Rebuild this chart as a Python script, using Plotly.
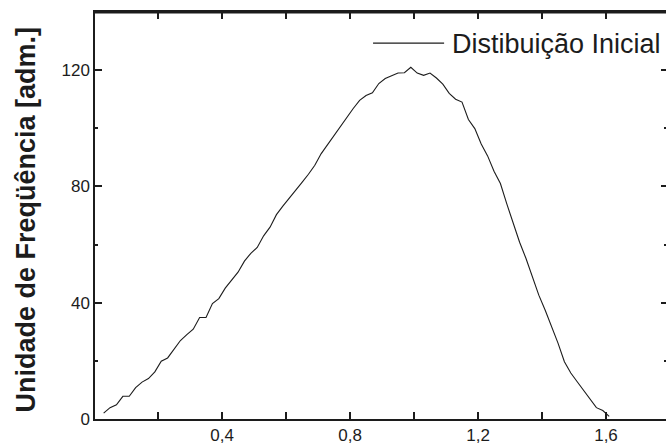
import plotly.graph_objects as go

# Initial frequency distribution (x in adm. units, y = frequency count)
x_vals = [0.03, 0.05, 0.07, 0.09, 0.11, 0.13, 0.15, 0.17, 0.19, 0.21,
          0.23, 0.25, 0.27, 0.29, 0.31, 0.33, 0.35, 0.37, 0.39, 0.41,
          0.43, 0.45, 0.47, 0.49, 0.51, 0.53, 0.55, 0.57, 0.59, 0.61,
          0.63, 0.65, 0.67, 0.69, 0.71, 0.73, 0.75, 0.77, 0.79, 0.81,
          0.83, 0.85, 0.87, 0.89, 0.91, 0.93, 0.95, 0.97, 0.99, 1.01,
          1.03, 1.05, 1.07, 1.09, 1.11, 1.13, 1.15, 1.17, 1.19, 1.21,
          1.23, 1.25, 1.27, 1.29, 1.31, 1.33, 1.35, 1.37, 1.39, 1.41,
          1.43, 1.45, 1.47, 1.49, 1.51, 1.53, 1.55, 1.57, 1.59, 1.61]
freq = [2.0, 3.9, 4.9, 7.8, 7.8, 10.8, 12.7, 13.9, 16.2, 19.9,
        21.0, 23.9, 27.0, 29.0, 30.9, 34.9, 34.9, 39.7, 41.4, 45.0,
        47.7, 50.5, 54.3, 57.0, 59.0, 63.0, 66.0, 70.3, 73.2, 75.8,
        78.6, 81.4, 84.2, 87.3, 91.3, 94.4, 97.4, 100.6, 103.9, 106.8,
        109.6, 111.3, 112.2, 115.4, 117.1, 118.0, 119.0, 119.1, 121.0, 119.0,
        118.2, 119.0, 117.3, 115.2, 112.0, 110.0, 109.0, 103.0, 99.9, 94.6,
        90.5, 85.2, 81.0, 74.0, 67.5, 60.8, 55.2, 48.6, 42.6, 37.4,
        31.9, 26.1, 19.7, 15.8, 12.8, 9.7, 6.6, 3.9, 2.9, 0.9]

series_name = "Distibuição Inicial"
y_title = "Unidade de Freqüência [adm.]"
x_ticks = [0.4, 0.8, 1.2, 1.6]
y_ticks = [0, 40, 80, 120]

INK = "#1c1c1c"
FONT = "Liberation Sans, Arial, sans-serif"
X_RANGE = [0.003, 1.7875]
Y_RANGE = [0, 140]

fig = go.Figure()
fig.add_trace(go.Scatter(x=x_vals, y=freq, mode="lines",
                         line=dict(color=INK, width=1.1),
                         name=series_name, showlegend=False,
                         hoverinfo="skip"))
# transparent copy bound to the right-hand tick axis so it gets drawn
fig.add_trace(go.Scatter(x=x_vals, y=freq, mode="lines", yaxis="y2",
                         line=dict(color="rgba(0,0,0,0)", width=0),
                         showlegend=False, hoverinfo="skip"))

tick_font = dict(family=FONT, size=17, color=INK)
frame = dict(showgrid=False, zeroline=False, linecolor=INK, linewidth=1.5,
             ticks="inside", tickcolor=INK, tickwidth=1.5, ticklen=7)

fig.update_layout(
    width=666, height=444,
    margin=dict(l=95, r=0, t=12, b=25),
    plot_bgcolor="white", paper_bgcolor="white",
    separators=",.",
    showlegend=False,
    xaxis=dict(range=X_RANGE, tickvals=x_ticks, tickformat=".1f",
               showline=True, mirror="allticks", tickfont=tick_font,
               minor=dict(dtick=0.2, tick0=0, ticks="inside", ticklen=3.5,
                          tickcolor=INK, tickwidth=1.5),
               **frame),
    yaxis=dict(range=Y_RANGE, tickvals=y_ticks, showline=True,
               tickfont=tick_font,
               minor=dict(dtick=20, tick0=0, ticks="inside", ticklen=3.5,
                          tickcolor=INK, tickwidth=1.5),
               **frame),
    yaxis2=dict(range=Y_RANGE, overlaying="y", side="right", anchor="x",
                tickvals=y_ticks, showline=False, showticklabels=False,
                showgrid=False, zeroline=False, ticks="inside",
                tickcolor=INK, tickwidth=1.5, ticklen=5,
                minor=dict(dtick=20, tick0=0, ticks="inside", ticklen=2,
                           tickcolor=INK, tickwidth=1.5)),
)

# top frame edge, drawn just inside the plotting area
fig.add_shape(type="line", xref="x domain", yref="y domain", x0=0, x1=1,
              y0=0.998, y1=0.998, line=dict(color=INK, width=1.5))

# y-axis title
fig.add_annotation(text=y_title, xref="paper", yref="paper",
                   x=-0.121, y=0.49, xanchor="center", yanchor="middle",
                   textangle=-90, showarrow=False,
                   font=dict(family=FONT, size=27, color=INK, weight="bold"))

# legend entry: sample line + label
fig.add_shape(type="line", xref="x", yref="y", x0=0.872, x1=1.094,
              y0=129.3, y1=129.3, line=dict(color=INK, width=1.1))
fig.add_annotation(text=series_name, xref="x", yref="y", x=1.113, y=129.0,
                   xanchor="left", yanchor="middle", showarrow=False,
                   font=dict(family=FONT, size=27, color=INK))

fig.write_html("out.html", config={"displayModeBar": False})
